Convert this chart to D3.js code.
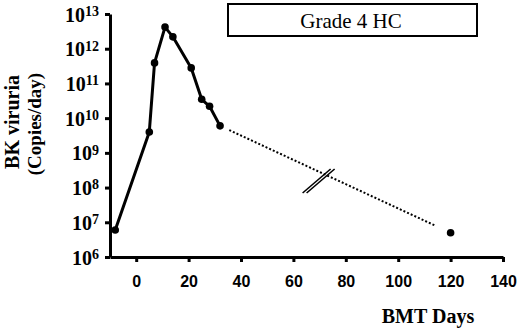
<!DOCTYPE html>
<meta charset="utf-8">
<style>
  body { margin: 0; background: #fff; }
  svg { display: block; }
  .axis .domain, .axis .tick line { stroke: #000; stroke-width: 3; }
  .xlab { font-family: "Liberation Sans", Arial, sans-serif; font-weight: bold; font-size: 16px; }
  .serif { font-family: "Liberation Serif", "Times New Roman", serif; }
</style>
<body>
<script src="https://cdn.jsdelivr.net/npm/d3@7"></script>
<script>
// BK viruria after BMT (grade 4 HC patient)
var days = [-8, 5, 7, 11, 14, 21, 25, 28, 32];
var copies = [6e6, 4e9, 3.9e11, 4.2e12, 2.2e12, 2.8e11, 3.5e10, 2.2e10, 6e9];
var followDays = [120];
var followCopies = [5e6];
var xTicks = [0, 20, 40, 60, 80, 100, 120, 140];
var yExps = [6, 7, 8, 9, 10, 11, 12, 13];
var breakDay = 70;

var width = 520, height = 335;

var x = d3.scaleLinear().domain([-10, 140]).range([110, 503]);
var y = d3.scaleLog().domain([1e6, 1e13]).range([257, 14]);

var svg = d3.select("body").append("svg")
  .attr("width", width)
  .attr("height", height);

// title box
svg.append("rect")
  .attr("x", 228).attr("y", 4)
  .attr("width", 249).attr("height", 32)
  .attr("fill", "#fff").attr("stroke", "#000").attr("stroke-width", 2);
svg.append("text")
  .attr("class", "serif")
  .attr("x", 351).attr("y", 28)
  .attr("text-anchor", "middle")
  .style("font-size", "21px")
  .text("Grade 4 HC");

// axes
var xAxis = d3.axisBottom(x).tickValues(xTicks).tickSize(5).tickSizeOuter(0).tickPadding(14);
var gx = svg.append("g")
  .attr("class", "axis")
  .attr("transform", "translate(0," + y(1e6) + ")")
  .call(xAxis);
gx.selectAll(".tick text").attr("class", "xlab").attr("fill", "#000");

var yAxis = d3.axisLeft(y)
  .tickValues(yExps.map(function (e) { return Math.pow(10, e); }))
  .tickSize(5).tickSizeOuter(0).tickPadding(6)
  .tickFormat("");
var gy = svg.append("g")
  .attr("class", "axis")
  .attr("transform", "translate(" + x(-10) + ",0)")
  .call(yAxis);
gy.selectAll(".tick text").each(function (d, i) {
  var t = d3.select(this)
    .attr("class", "serif")
    .attr("fill", "#000")
    .style("font-weight", "bold")
    .style("font-size", "20px")
    .attr("dy", "0.35em");
  t.append("tspan").text("10");
  t.append("tspan").attr("dy", "-0.4em").style("font-size", "14px").text(yExps[i]);
});

// axis titles
svg.append("text")
  .attr("class", "serif")
  .attr("transform", "translate(19,122) rotate(-90)")
  .attr("text-anchor", "middle")
  .style("font-weight", "bold").style("font-size", "20px")
  .text("BK viruria");
svg.append("text")
  .attr("class", "serif")
  .attr("transform", "translate(41,124) rotate(-90)")
  .attr("text-anchor", "middle")
  .style("font-weight", "bold").style("font-size", "19px")
  .text("(Copies/day)");
svg.append("text")
  .attr("class", "serif")
  .attr("x", 428).attr("y", 323)
  .attr("text-anchor", "middle")
  .style("font-weight", "bold").style("font-size", "20px")
  .text("BMT Days");

// main series
var pts = days.map(function (d, i) { return [x(d), y(copies[i])]; });
svg.append("path")
  .attr("d", d3.line()(pts))
  .attr("fill", "none").attr("stroke", "#000").attr("stroke-width", 3)
  .attr("stroke-linejoin", "round");

// dotted gap to follow-up sample
var p0 = pts[pts.length - 1];
var p1 = [x(followDays[0]), y(followCopies[0])];
function lerp(t) { return [p0[0] + (p1[0] - p0[0]) * t, p0[1] + (p1[1] - p0[1]) * t]; }
svg.append("path")
  .attr("d", d3.line()([lerp(0.04), lerp(0.93)]))
  .attr("fill", "none").attr("stroke", "#000").attr("stroke-width", 2)
  .attr("stroke-dasharray", "2,2");

// axis break mark
var tb = (x(breakDay) - p0[0]) / (p1[0] - p0[0]);
var bp = lerp(tb);
[-2, 2].forEach(function (o) {
  svg.append("line")
    .attr("x1", bp[0] - 15 + o).attr("y1", bp[1] + 21)
    .attr("x2", bp[0] + 13 + o).attr("y2", bp[1] - 3)
    .attr("stroke", "#000").attr("stroke-width", 1.6);
});

// markers
svg.selectAll("circle.pt")
  .data(pts.concat([p1]))
  .enter().append("circle")
  .attr("class", "pt")
  .attr("cx", function (d) { return d[0]; })
  .attr("cy", function (d) { return d[1]; })
  .attr("r", 3.8)
  .attr("fill", "#000");
</script>
</body>
